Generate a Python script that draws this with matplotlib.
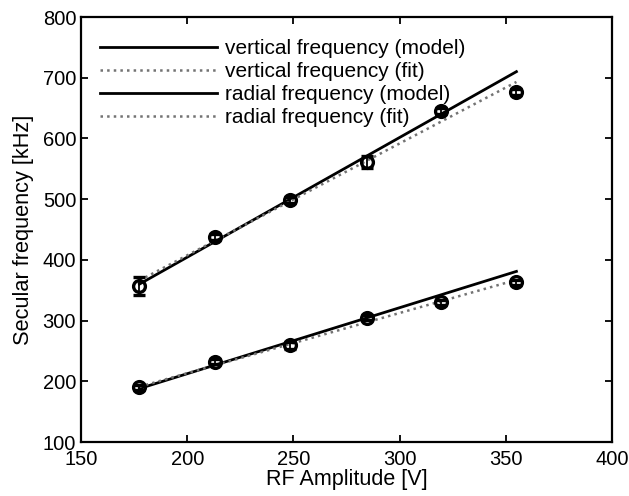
import matplotlib.pyplot as plt
import numpy as np

plt.rcParams['font.family'] = ['Liberation Sans', 'DejaVu Sans']

# measured points
rf = [177.5, 213, 248.5, 284.5, 319.5, 355]
vert = [357, 437, 498, 561, 645, 677]
vert_err = [15, 5, 5, 10, 5, 5]
rad = [190, 232, 259, 305, 330, 363]
rad_err = [4, 4, 5, 4, 4, 4]

# line end values (model and fit)
line_x = [177.5, 355]
vert_model = [360, 710]
vert_fit = [366, 693]
rad_model = [188, 381]
rad_fit = [191, 367]

fig = plt.figure(figsize=(6.29, 4.96), dpi=100)
ax = fig.add_axes([81 / 629, 54 / 496, 531 / 629, 425 / 496])

ax.plot(line_x, vert_model, 'k-', lw=2, label='vertical frequency (model)')
ax.plot(line_x, vert_fit, color='0.45', ls=':', lw=1.8, label='vertical frequency (fit)')
ax.plot(line_x, rad_model, 'k-', lw=2, label='radial frequency (model)')
ax.plot(line_x, rad_fit, color='0.45', ls=':', lw=1.8, label='radial frequency (fit)')

ax.errorbar(rf, vert, yerr=vert_err, fmt='o', color='k', mfc='none', mew=2.4,
            ms=8.5, capsize=4, elinewidth=1.3)
ax.errorbar(rf, rad, yerr=rad_err, fmt='o', color='k', mfc='none', mew=2.4,
            ms=8.5, capsize=4, elinewidth=1.3)

ax.set_xlim(150, 400)
ax.set_ylim(100, 800)
ax.set_xticks([150, 200, 250, 300, 350, 400])
ax.set_yticks([100, 200, 300, 400, 500, 600, 700, 800])
ax.tick_params(direction='in', labelsize=14.5, length=5, width=1.3, top=True, right=True)
ax.tick_params(axis='x', pad=6)
for s in ax.spines.values():
    s.set_linewidth(1.6)
ax.set_xlabel('RF Amplitude [V]', fontsize=15.5, labelpad=0)
ax.set_ylabel('Secular frequency [kHz]', fontsize=15.7, labelpad=6)

ax.legend(loc='upper left', bbox_to_anchor=(0.036, 0.948), frameon=False,
          fontsize=15, handlelength=5.6, labelspacing=0.19, borderaxespad=0,
          borderpad=0, handletextpad=0.4)

plt.savefig('out.png', dpi=100)
